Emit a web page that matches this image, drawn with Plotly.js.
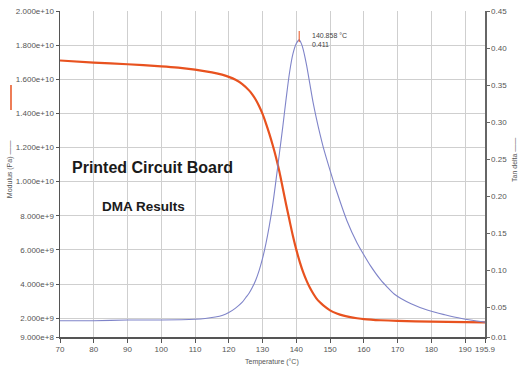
<!DOCTYPE html>
<html>
<head>
<meta charset="utf-8">
<script src="https://cdn.plot.ly/plotly-3.0.1.min.js"></script>
<style>
html,body{margin:0;padding:0;background:#fff;}
#chart{width:526px;height:376px;}
</style>
</head>
<body>
<div id="chart"></div>
<script>
// Storage modulus (in 1e9 Pa) vs temperature (°C)
const modT = [70, 80, 90, 100, 105, 110, 115, 118, 120, 122, 124, 126, 127, 128, 129, 130, 131, 132, 133, 134, 135, 136, 137, 138, 139, 140, 141, 142, 143, 144, 145, 146, 147, 148, 150, 152, 154, 156, 158, 160, 165, 170, 180, 190, 195.9];
const modulusGPa = [17.1, 16.98, 16.88, 16.76, 16.68, 16.56, 16.4, 16.27, 16.14, 15.97, 15.72, 15.35, 15.1, 14.8, 14.42, 13.97, 13.42, 12.82, 12.15, 11.42, 10.58, 9.62, 8.65, 7.72, 6.82, 6.02, 5.32, 4.72, 4.22, 3.8, 3.45, 3.15, 2.93, 2.75, 2.46, 2.28, 2.15, 2.06, 2.0, 1.95, 1.88, 1.84, 1.8, 1.77, 1.76];

// Tan delta vs temperature (°C)
const tanT = [70, 80, 90, 100, 110, 113, 116, 118, 120, 122, 124, 125, 126, 127, 128, 129, 130, 131, 132, 133, 134, 135, 136, 137, 138, 139, 140, 140.858, 141.5, 142, 143, 144, 145, 146, 147, 148, 150, 152, 155, 158, 160, 162, 165, 167, 169, 171, 174, 179, 184, 189, 195.9];
const tanDelta = [0.032, 0.032, 0.033, 0.033, 0.034, 0.035, 0.037, 0.039, 0.043, 0.049, 0.057, 0.063, 0.069, 0.077, 0.087, 0.100, 0.116, 0.136, 0.160, 0.188, 0.222, 0.258, 0.294, 0.332, 0.367, 0.392, 0.406, 0.411, 0.406, 0.399, 0.378, 0.352, 0.326, 0.304, 0.284, 0.266, 0.235, 0.206, 0.167, 0.137, 0.121, 0.106, 0.087, 0.077, 0.068, 0.062, 0.055, 0.046, 0.040, 0.035, 0.030];

const peakT = 140.858;
const peakTan = 0.411;

// Axis ticks
const xTickVals = [70, 80, 90, 100, 110, 120, 130, 140, 150, 160, 170, 180, 190, 195.9];
const xTickText = ["70", "80", "90", "100", "110", "120", "130", "140", "150", "160", "170", "180", "190", "195.9"];
const yTickVals = [9e8, 2e9, 4e9, 6e9, 8e9, 1e10, 1.2e10, 1.4e10, 1.6e10, 1.8e10, 2e10];
const yTickText = ["9.000e+8", "2.000e+9", "4.000e+9", "6.000e+9", "8.000e+9", "1.000e+10", "1.200e+10", "1.400e+10", "1.600e+10", "1.800e+10", "2.000e+10"];
const y2TickVals = [0.01, 0.05, 0.10, 0.15, 0.20, 0.25, 0.30, 0.35, 0.40, 0.45];
const y2TickText = ["0.01", "0.05", "0.10", "0.15", "0.20", "0.25", "0.30", "0.35", "0.40", "0.45"];

const RED = '#e8521f';
const BLUE = '#7f84c9';
const FONT = 'Liberation Sans, Arial, sans-serif';

const traces = [
  {x: modT, y: modulusGPa.map(v => v * 1e9), type: 'scatter', mode: 'lines',
   line: {color: RED, width: 2.2, shape: 'spline', smoothing: 0.8}, yaxis: 'y', hoverinfo: 'skip'},
  {x: tanT, y: tanDelta, type: 'scatter', mode: 'lines',
   line: {color: BLUE, width: 1.1, shape: 'spline', smoothing: 0.8}, yaxis: 'y2', hoverinfo: 'skip'}
];

const tickFont = {family: FONT, size: 8, color: '#555'};

const layout = {
  width: 526, height: 376,
  margin: {l: 60, r: 41, t: 11, b: 39, pad: 0},
  paper_bgcolor: '#fff', plot_bgcolor: '#fff',
  showlegend: false,
  xaxis: {
    range: [70, 195.9], tickmode: 'array', tickvals: xTickVals, ticktext: xTickText,
    showgrid: true, gridcolor: '#cfcfcf', gridwidth: 1,
    showline: true, linecolor: '#555', linewidth: 1.5,
    ticks: 'outside', ticklen: 4, tickcolor: '#555',
    tickfont: tickFont, zeroline: false
  },
  yaxis: {
    range: [9e8, 2e10], tickmode: 'array', tickvals: yTickVals, ticktext: yTickText,
    showgrid: true, gridcolor: '#cfcfcf', gridwidth: 1,
    showline: true, linecolor: '#555', linewidth: 1.5,
    ticks: 'outside', ticklen: 3, tickcolor: '#555',
    tickfont: tickFont, zeroline: false
  },
  yaxis2: {
    range: [0.01, 0.45], overlaying: 'y', side: 'right',
    tickmode: 'array', tickvals: y2TickVals, ticktext: y2TickText,
    showgrid: false, showline: true, linecolor: '#666', linewidth: 1.5,
    ticks: 'outside', ticklen: 3, tickcolor: '#666',
    tickfont: tickFont, zeroline: false
  },
  shapes: [
    {type: 'line', xref: 'x', yref: 'y2', x0: peakT, x1: peakT, y0: peakTan - 0.003, y1: peakTan + 0.012,
     line: {color: RED, width: 1}},
    {type: 'line', xref: 'paper', yref: 'paper', x0: -0.1153, x1: -0.1153, y0: 0.696, y1: 0.773,
     line: {color: RED, width: 1.5}}
  ],
  annotations: [
    {text: 'Printed Circuit Board', xref: 'paper', yref: 'paper', x: 0.0235, y: 0.521,
     xanchor: 'left', yanchor: 'middle', showarrow: false,
     font: {family: FONT, size: 16, color: '#1a1a1a', weight: 'bold'}},
    {text: 'DMA Results', xref: 'paper', yref: 'paper', x: 0.094, y: 0.399,
     xanchor: 'left', yanchor: 'middle', showarrow: false,
     font: {family: FONT, size: 13.5, color: '#1a1a1a', weight: 'bold'}},
    {text: peakT.toFixed(3) + ' °C<br>' + peakTan.toFixed(3), xref: 'x', yref: 'y2', x: peakT, y: peakTan,
     xanchor: 'left', yanchor: 'middle', xshift: 11, yshift: 0, align: 'left', showarrow: false,
     font: {family: FONT, size: 7, color: '#444'}},
    {text: 'Modulus (Pa) ——', xref: 'paper', yref: 'paper', x: -0.1176, y: 0.515,
     xanchor: 'center', yanchor: 'middle', textangle: -90, showarrow: false,
     font: {family: FONT, size: 7, color: '#555'}},
    {text: 'Tan delta ——', xref: 'paper', yref: 'paper', x: 1.0706, y: 0.543,
     xanchor: 'center', yanchor: 'middle', textangle: -90, showarrow: false,
     font: {family: FONT, size: 7, color: '#555'}},
    {text: 'Temperature (°C)', xref: 'paper', yref: 'paper', x: 0.499, y: -0.077,
     xanchor: 'center', yanchor: 'middle', showarrow: false,
     font: {family: FONT, size: 7, color: '#555'}}
  ]
};

Plotly.newPlot('chart', traces, layout, {staticPlot: true, displayModeBar: false});
</script>
</body>
</html>
